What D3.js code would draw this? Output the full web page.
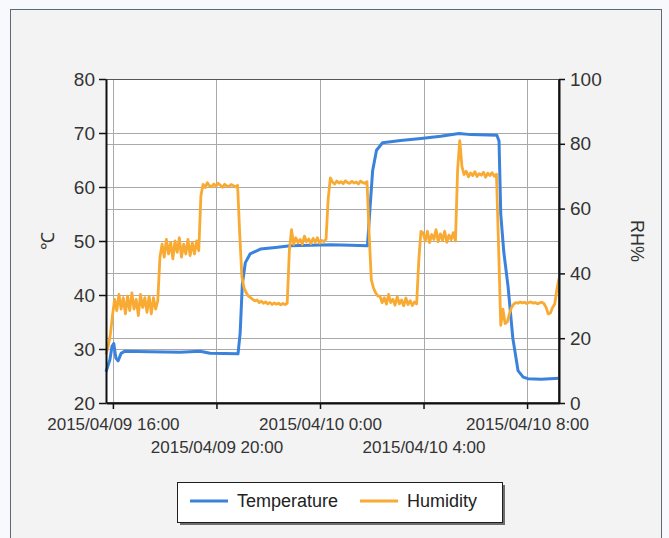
<!DOCTYPE html>
<html>
<head>
<meta charset="utf-8">
<script src="https://cdn.jsdelivr.net/npm/d3@7"></script>
<style>
  body { margin: 0; background: #f7f9fc; }
  svg { display: block; font-family: "Liberation Sans", Arial, sans-serif; }
</style>
</head>
<body>
<svg id="chart" width="669" height="538"></svg>
<script>
// Temperature readings (℃), logged as [time, value]
const temperature = [
  ["2015/04/09 15:44", 25.8], ["2015/04/09 15:53", 28], ["2015/04/09 15:58", 30.5],
  ["2015/04/09 16:02", 31], ["2015/04/09 16:07", 28.3], ["2015/04/09 16:12", 27.8],
  ["2015/04/09 16:19", 29.2], ["2015/04/09 16:28", 29.6], ["2015/04/09 17:26", 29.5],
  ["2015/04/09 18:36", 29.4], ["2015/04/09 19:22", 29.6], ["2015/04/09 19:45", 29.2],
  ["2015/04/09 20:50", 29.1], ["2015/04/09 20:55", 33], ["2015/04/09 21:00", 42],
  ["2015/04/09 21:07", 46], ["2015/04/09 21:18", 47.6], ["2015/04/09 21:42", 48.5],
  ["2015/04/09 22:17", 48.8], ["2015/04/09 22:51", 49.1], ["2015/04/09 23:38", 49.2],
  ["2015/04/10 00:24", 49.3], ["2015/04/10 01:11", 49.2], ["2015/04/10 01:50", 49.1],
  ["2015/04/10 01:55", 55], ["2015/04/10 02:02", 63], ["2015/04/10 02:11", 66.8],
  ["2015/04/10 02:25", 68.2], ["2015/04/10 03:07", 68.6], ["2015/04/10 03:54", 69],
  ["2015/04/10 04:40", 69.4], ["2015/04/10 05:22", 69.9], ["2015/04/10 05:50", 69.7],
  ["2015/04/10 06:50", 69.6], ["2015/04/10 06:55", 68.5], ["2015/04/10 06:59", 55],
  ["2015/04/10 07:06", 48], ["2015/04/10 07:16", 41.5], ["2015/04/10 07:27", 32],
  ["2015/04/10 07:39", 26], ["2015/04/10 07:51", 24.8], ["2015/04/10 08:02", 24.5],
  ["2015/04/10 08:33", 24.4], ["2015/04/10 09:14", 24.6]
];

// Humidity log (RH%), one reading every 5 minutes from humidityStart
const humidityStart = "2015/04/09 15:44";
const humidityStepMin = 5;
const humidity = [
  15, 17.5, 21, 27,
  32, 28.5, 33.5, 29, 32.5, 27.5, 33, 28.5, 34, 29, 32, 27, 33.5, 29.5, 32.5, 28, 33, 27.5, 32.5, 29, 31.5,
  45,
  49, 45, 50.5, 46, 49.5, 44.5, 50, 46.5, 51, 45, 49, 46, 50.5, 45.5, 49.5, 46, 50, 47,
  64,
  67.5, 66.5, 68, 67, 66.8, 67.6, 66.9, 67.8, 67.2, 66.6, 67.5, 67, 66.8, 67.4, 67.1, 66.7, 67.2,
  52, 39, 35.5, 34, 33, 32.5,
  32, 31.5, 31.8, 31, 31.4, 30.8, 31.2, 30.6, 31, 30.4, 30.9, 30.5, 30.8, 30.3, 30.7, 30.4, 30.8,
  47, 53.5, 49,
  51, 49.5, 50.5, 49, 51.5, 49.8, 50.6, 49.2, 50.8, 49.6, 51, 49.4, 50.2, 49.8, 50.6,
  63, 69.5,
  68.2, 67.6, 68.5, 67.9, 68.3, 67.7, 68.6, 68, 67.8, 68.4, 67.9, 68.2, 67.6, 68.5, 68, 67.8, 68.3,
  52, 38, 35.5, 34, 33,
  33, 31, 32.5, 30.5, 33.5, 31, 32, 30.2, 32.8, 30.6, 31.8, 30, 32.4, 30.4, 31.6, 30.1, 31.2, 30.6,
  44, 53,
  52.5, 50, 53, 49.5, 52, 50.5, 53.5, 49.8, 52.2, 50.2, 53, 49.6, 51.8, 50.4, 52.6, 50,
  72, 81, 73,
  70.5, 71.5, 69.8, 71, 70.2, 71.4, 69.9, 70.8, 70.3, 71.2, 69.7, 70.9, 70.2, 71.1, 70, 70.6,
  48, 24, 29, 24.5, 25, 27.5, 29.5, 30.5,
  31, 30.8, 31.2, 30.9, 31.1, 30.7, 31, 31.2, 30.8, 31, 30.6, 30.9, 31.1, 30.7,
  29.5, 27.5, 27.8, 29.5, 30.5, 35, 38.5
];

const xTicks = ["2015/04/09 16:00", "2015/04/09 20:00", "2015/04/10 00:00", "2015/04/10 04:00", "2015/04/10 08:00"];
const tempTicks = [20, 30, 40, 50, 60, 70, 80];
const humTicks = [0, 20, 40, 60, 80, 100];
const seriesNames = ["Temperature", "Humidity"];
const seriesColors = ["#3b82dc", "#f9aa32"];

const parse = d3.timeParse("%Y/%m/%d %H:%M");
const fmt = d3.timeFormat("%Y/%m/%d %-H:%M");

const tempData = temperature.map(d => ({ t: parse(d[0]), v: d[1] }));
const t0 = parse(humidityStart);
const humData = humidity.map((v, i) => ({ t: d3.timeMinute.offset(t0, i * humidityStepMin), v: v }));

const svg = d3.select('#chart');
const plot = { left: 106, right: 559, top: 79, bottom: 403 };

// Outer panel
svg.append('rect')
  .attr('x', 10.5).attr('y', 9.5).attr('width', 651).attr('height', 545)
  .attr('fill', '#f3f3f3').attr('stroke', '#5d6975');

const allTimes = tempData.map(d => d.t).concat(humData.map(d => d.t));
const x = d3.scaleTime().domain(d3.extent(allTimes)).range([plot.left, plot.right]);
const yT = d3.scaleLinear().domain([20, 80]).range([plot.bottom, plot.top]);
const yH = d3.scaleLinear().domain([0, 100]).range([plot.bottom, plot.top]);

svg.append('rect')
  .attr('x', plot.left).attr('y', plot.top)
  .attr('width', plot.right - plot.left).attr('height', plot.bottom - plot.top)
  .attr('fill', '#ffffff');

// Grid lines
let grid = svg.append('g').attr('stroke', '#a9a9a9').attr('stroke-width', 1);
xTicks.map(parse).forEach(t => {
  grid.append('line')
    .attr('x1', Math.round(x(t)) + 0.5).attr('x2', Math.round(x(t)) + 0.5)
    .attr('y1', plot.top).attr('y2', plot.bottom);
});
tempTicks.slice(1, -1).forEach(v => {
  grid.append('line')
    .attr('x1', plot.left).attr('x2', plot.right)
    .attr('y1', Math.round(yT(v)) + 0.5).attr('y2', Math.round(yT(v)) + 0.5);
});
humTicks.slice(1, -1).forEach(v => {
  grid.append('line')
    .attr('x1', plot.left).attr('x2', plot.right)
    .attr('y1', Math.round(yH(v)) + 0.5).attr('y2', Math.round(yH(v)) + 0.5);
});

// Series lines (temperature first, humidity on top)
const lineT = d3.line().x(d => x(d.t)).y(d => yT(d.v));
const lineH = d3.line().x(d => x(d.t)).y(d => yH(d.v));

svg.append('path').datum(tempData)
  .attr('d', lineT).attr('fill', 'none')
  .attr('stroke', seriesColors[0]).attr('stroke-width', 3).attr('stroke-linejoin', 'round');
svg.append('path').datum(humData)
  .attr('d', lineH).attr('fill', 'none')
  .attr('stroke', seriesColors[1]).attr('stroke-width', 2.8).attr('stroke-linejoin', 'round');

// Plot border
svg.append('rect')
  .attr('x', plot.left + 0.5).attr('y', plot.top + 0.5)
  .attr('width', plot.right - plot.left - 1).attr('height', plot.bottom - plot.top - 1)
  .attr('fill', 'none').attr('stroke', '#555').attr('stroke-width', 1);

// Axes
function styleAxis(g, size) {
  g.select('.domain').attr('stroke', '#111').attr('stroke-width', 2);
  g.selectAll('.tick line').attr('stroke', '#111').attr('stroke-width', 1.5);
  g.selectAll('.tick text').attr('fill', '#333').attr('font-size', size);
}

let leftAxis = svg.append('g')
  .attr('transform', `translate(${plot.left},0)`)
  .call(d3.axisLeft(yT).tickValues(tempTicks).tickSize(7).tickSizeOuter(0).tickPadding(4));
styleAxis(leftAxis, 19);

let rightAxis = svg.append('g')
  .attr('transform', `translate(${plot.right},0)`)
  .call(d3.axisRight(yH).tickValues(humTicks).tickSize(6).tickSizeOuter(0).tickPadding(5));
styleAxis(rightAxis, 19);

let bottomAxis = svg.append('g')
  .attr('transform', `translate(0,${plot.bottom})`)
  .call(d3.axisBottom(x).tickValues(xTicks.map(parse)).tickSize(6).tickSizeOuter(0).tickFormat(fmt));
styleAxis(bottomAxis, 17);
bottomAxis.selectAll('.tick text')
  .attr('y', (d, i) => i % 2 === 0 ? 15 : 38);

// Axis titles
svg.append('text')
  .attr('transform', `translate(54,241) rotate(-90)`)
  .attr('text-anchor', 'middle').attr('font-size', 18).attr('fill', '#333')
  .text('℃');
svg.append('text')
  .attr('transform', `translate(631,241) rotate(90)`)
  .attr('text-anchor', 'middle').attr('font-size', 18).attr('fill', '#333')
  .text('RH%');

// Legend
let legend = svg.append('g');
legend.append('rect')
  .attr('x', 180).attr('y', 485).attr('width', 325).attr('height', 40)
  .attr('fill', '#6e6e6e');
legend.append('rect')
  .attr('x', 177.5).attr('y', 482.5).attr('width', 325).attr('height', 40)
  .attr('fill', '#ffffff').attr('stroke', '#1e1e1e');

const legendX = [190, 360];
seriesNames.forEach((name, i) => {
  legend.append('line')
    .attr('x1', legendX[i]).attr('x2', legendX[i] + 38)
    .attr('y1', 501).attr('y2', 501)
    .attr('stroke', seriesColors[i]).attr('stroke-width', 3);
  legend.append('text')
    .attr('x', legendX[i] + 47).attr('y', 507)
    .attr('font-size', 18).attr('fill', '#222')
    .text(name);
});
</script>
</body>
</html>
